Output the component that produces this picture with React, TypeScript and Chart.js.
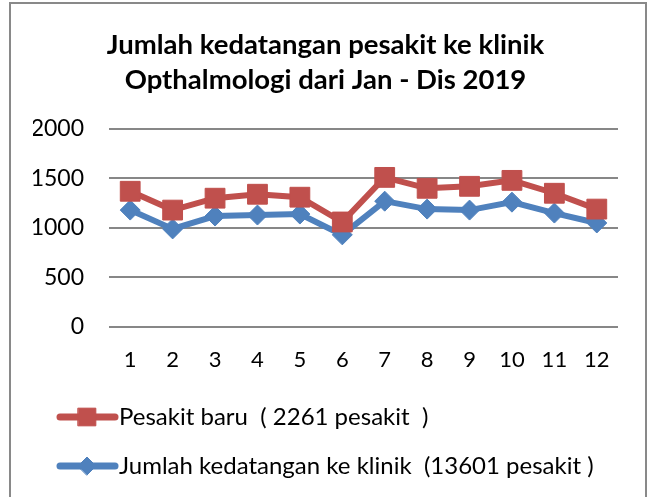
import React, { useEffect, useRef } from "react";
import { Chart, registerables } from "chart.js";
import { drawPoint } from "chart.js/helpers";

Chart.register(...registerables);

const months = ["1", "2", "3", "4", "5", "6", "7", "8", "9", "10", "11", "12"];
const pesakitBaru = [1370, 1180, 1300, 1340, 1310, 1060, 1510, 1400, 1420, 1480, 1350, 1190];
const kedatangan = [1180, 990, 1120, 1130, 1140, 930, 1270, 1190, 1180, 1260, 1150, 1050];
const seriesNames = [
  "Pesakit baru  ( 2261 pesakit  )",
  "Jumlah kedatangan ke klinik  (13601 pesakit )",
];
const titleLines = ["Jumlah kedatangan pesakit ke klinik", "Opthalmologi dari Jan - Dis 2019"];

const RED = "#C0504D";
const BLUE = "#4F81BD";
const FONT = "Lato, 'Open Sans', sans-serif";

const sideLegend = {
  id: "sideLegend",
  afterDraw(chart: any) {
    const ctx = chart.ctx;
    const area = chart.chartArea;
    const x0 = 60;
    const offsets = [90, 139];
    chart.data.datasets.forEach((ds: any, i: number) => {
      const y = area.bottom + offsets[i];
      ctx.save();
      ctx.strokeStyle = ds.borderColor;
      ctx.lineWidth = 7;
      ctx.lineCap = "round";
      ctx.beginPath();
      ctx.moveTo(x0, y);
      ctx.lineTo(x0 + 55, y);
      ctx.stroke();
      ctx.fillStyle = ds.pointBackgroundColor;
      ctx.strokeStyle = ds.pointBorderColor;
      ctx.lineWidth = 1;
      drawPoint(ctx, { pointStyle: ds.pointStyle, radius: ds.pointStyle === "rect" ? 12.5 : 9, rotation: 0, borderWidth: 1 } as any, x0 + 27, y);
      ctx.fillStyle = "#000";
      ctx.font = "24px " + FONT;
      ctx.textBaseline = "middle";
      ctx.textAlign = "left";
      ctx.fillText(ds.label, x0 + 59, y);
      ctx.restore();
    });
  },
};

export default function App() {
  const ref = useRef<HTMLCanvasElement>(null);
  useEffect(() => {
    let chart: Chart | null = null;
    let cancelled = false;
    const build = () => {
      if (cancelled || !ref.current) return;
      chart = new Chart(ref.current, {
        type: "line",
        data: {
          labels: months,
          datasets: [
            {
              label: seriesNames[0],
              data: pesakitBaru,
              borderColor: RED,
              backgroundColor: RED,
              pointBackgroundColor: RED,
              pointBorderColor: RED,
              borderWidth: 6,
              pointStyle: "rect",
              pointRadius: 14,
              pointBorderWidth: 1,
              tension: 0,
            },
            {
              label: seriesNames[1],
              data: kedatangan,
              borderColor: BLUE,
              backgroundColor: BLUE,
              pointBackgroundColor: BLUE,
              pointBorderColor: BLUE,
              borderWidth: 6,
              pointStyle: "rectRot",
              pointRadius: 10,
              pointBorderWidth: 1,
              tension: 0,
            },
          ],
        },
        options: {
          responsive: false,
          animation: false,
          layout: { padding: { left: 33, right: 34, top: 20, bottom: 123 } },
          plugins: {
            legend: { display: false },
            tooltip: { enabled: false },
            title: {
              display: true,
              text: titleLines,
              color: "#000",
              font: { family: FONT, size: 27.5, weight: "bold", lineHeight: 1.27 },
              padding: { top: 8, bottom: 31 },
            },
          },
          scales: {
            x: {
              offset: true,
              grid: { display: false, drawTicks: false },
              border: { display: false },
              ticks: { color: "#000", font: { family: FONT, size: 22 }, padding: 20, maxRotation: 0 },
              afterFit: (s: any) => {
                s.height = 47;
              },
            },
            y: {
              min: 0,
              max: 2000,
              ticks: {
                stepSize: 500,
                color: "#000",
                font: { family: FONT, size: 23 },
                padding: 25,
                callback: (v: any) => String(v),
              },
              grid: { color: "#878787", lineWidth: 2, drawTicks: false },
              border: { display: false },
              afterFit: (s: any) => {
                s.width = 76;
              },
            },
          },
        },
        plugins: [sideLegend],
      });
    };
    const fontsReady = (document as any).fonts
      ? Promise.all([
          (document as any).fonts.load("22px Lato"),
          (document as any).fonts.load("bold 27px Lato"),
        ]).catch(() => null)
      : Promise.resolve(null);
    fontsReady.then(build);
    return () => {
      cancelled = true;
      if (chart) chart.destroy();
    };
  }, []);
  return (
    <div>
      <canvas
        ref={ref}
        width={652}
        height={497}
        style={{ position: "fixed", left: 0, top: 0, width: 652, height: 497, background: "#fff" }}
      />
      <div
        style={{
          position: "fixed",
          left: 9,
          top: 2,
          width: 634,
          height: 520,
          border: "2px solid #898989",
          pointerEvents: "none",
        }}
      />
    </div>
  );
}
